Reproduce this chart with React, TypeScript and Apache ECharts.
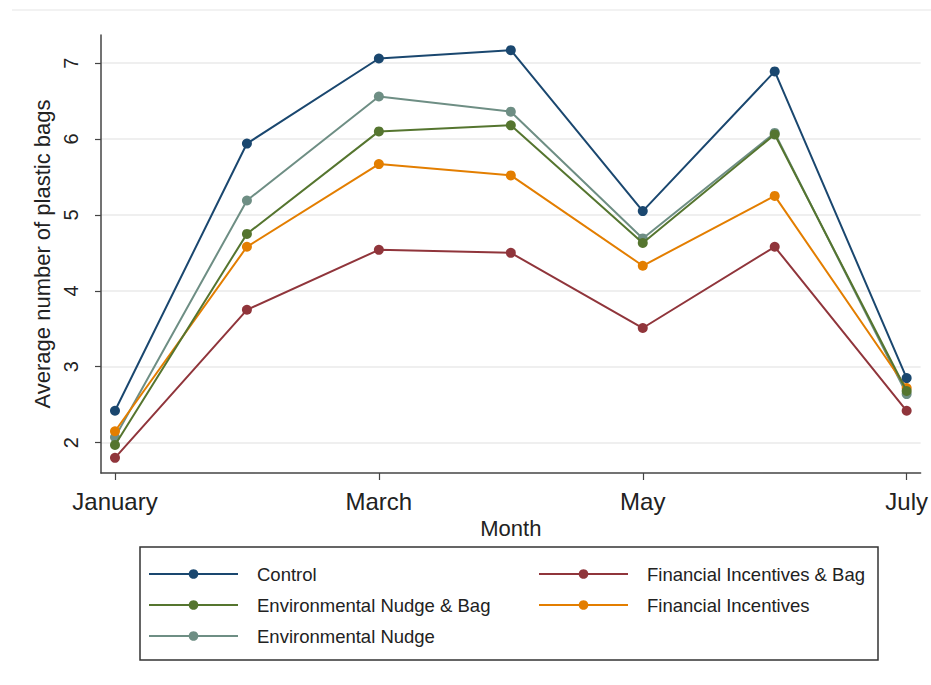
import React, { useEffect, useRef } from "react";
import * as echarts from "echarts";

const months = ["January", "February", "March", "April", "May", "June", "July"];
const monthIndex = [1, 2, 3, 4, 5, 6, 7];
const labeledMonths = [1, 3, 5, 7];
const yTicks = [2, 3, 4, 5, 6, 7];

const seriesNames = [
  "Control",
  "Financial Incentives & Bag",
  "Environmental Nudge & Bag",
  "Financial Incentives",
  "Environmental Nudge",
];
const seriesColors = ["#1a476f", "#90353b", "#55752f", "#e37e00", "#6e8e84"];

const control = [2.42, 5.94, 7.06, 7.17, 5.05, 6.89, 2.85];
const finIncBag = [1.8, 3.75, 4.54, 4.5, 3.51, 4.58, 2.42];
const envNudgeBag = [1.97, 4.75, 6.1, 6.18, 4.63, 6.06, 2.68];
const finInc = [2.15, 4.58, 5.67, 5.52, 4.33, 5.25, 2.72];
const envNudge = [2.07, 5.19, 6.56, 6.36, 4.69, 6.08, 2.64];

const seriesValues = [control, finIncBag, envNudgeBag, finInc, envNudge];

const FONT = "'Liberation Sans', Arial, sans-serif";

export default function App() {
  const ref = useRef<HTMLDivElement>(null);
  useEffect(() => {
    if (!ref.current) return;
    const chart = echarts.init(ref.current, undefined, { renderer: "svg" });
    const series = seriesNames.map((name, i) => ({
      name,
      type: "line",
      data: seriesValues[i].map((v, j) => [monthIndex[j], v]),
      symbol: "circle",
      symbolSize: 10,
      lineStyle: { width: 2, color: seriesColors[i] },
      itemStyle: { color: seriesColors[i] },
      z: 10 - i,
    }));
    const legendText = {
      fontFamily: FONT,
      fontSize: 18.5,
      color: "#222",
      lineHeight: 20,
      padding: [0, 0, 0, 14],
    };
    chart.setOption({
      animation: false,
      backgroundColor: "#ffffff",
      textStyle: { fontFamily: FONT },
      grid: { left: 101, right: 9, top: 35, bottom: 212, containLabel: false },
      xAxis: {
        type: "value",
        min: 0.894,
        max: 7.106,
        name: "Month",
        nameLocation: "middle",
        nameGap: 39,
        nameTextStyle: { fontFamily: FONT, fontSize: 22, color: "#222" },
        axisLine: { show: true, lineStyle: { color: "#444", width: 1.5 } },
        axisTick: {
          show: true,
          length: 7,
          customValues: labeledMonths,
          lineStyle: { color: "#444", width: 1.2 },
        },
        axisLabel: {
          customValues: labeledMonths,
          margin: 16,
          fontFamily: FONT,
          fontSize: 24,
          color: "#222",
          formatter: (v: number) => months[Math.round(v) - 1] ?? "",
        },
        splitLine: { show: false },
      },
      yAxis: {
        type: "value",
        min: 1.6,
        max: 7.37,
        name: "Average number of plastic bags",
        nameLocation: "middle",
        nameRotate: 90,
        nameGap: 42,
        nameTextStyle: { fontFamily: FONT, fontSize: 22, color: "#222" },
        axisLine: { show: true, lineStyle: { color: "#444", width: 1.5 } },
        axisTick: {
          show: true,
          length: 6,
          customValues: yTicks,
          lineStyle: { color: "#444", width: 1.2 },
        },
        axisLabel: {
          customValues: yTicks,
          rotate: 90,
          margin: 20,
          fontFamily: FONT,
          fontSize: 20,
          color: "#222",
        },
        splitLine: { show: false },
      },
      legend: [
        {
          orient: "vertical",
          left: 148,
          top: 564,
          itemWidth: 89,
          itemHeight: 12,
          itemGap: 11,
          padding: 0,
          data: [seriesNames[0], seriesNames[2], seriesNames[4]],
          textStyle: legendText,
        },
        {
          orient: "vertical",
          left: 538,
          top: 564,
          itemWidth: 89,
          itemHeight: 12,
          itemGap: 11,
          padding: 0,
          data: [seriesNames[1], seriesNames[3]],
          textStyle: legendText,
        },
      ],
      graphic: [
        {
          type: "rect",
          shape: { x: 140, y: 547, width: 738, height: 113 },
          style: { fill: "none", stroke: "#333", lineWidth: 1.5 },
          silent: true,
        },
        {
          type: "line",
          shape: { x1: 12, y1: 10, x2: 931, y2: 10 },
          style: { stroke: "#eeeeee", lineWidth: 1.5 },
          silent: true,
        },
      ],
      series: [
        ...series,
        {
          name: "_grid",
          type: "line",
          data: [],
          silent: true,
          markLine: {
            silent: true,
            symbol: "none",
            label: { show: false },
            lineStyle: { color: "#eaeaea", type: "solid", width: 1.5 },
            data: yTicks.map((t) => ({ yAxis: t })),
            z: 0,
          },
          z: 0,
        },
      ],
    });
    return () => chart.dispose();
  }, []);
  return (
    <div
      ref={ref}
      style={{ position: "fixed", left: 0, top: 0, width: 931, height: 685 }}
    />
  );
}
